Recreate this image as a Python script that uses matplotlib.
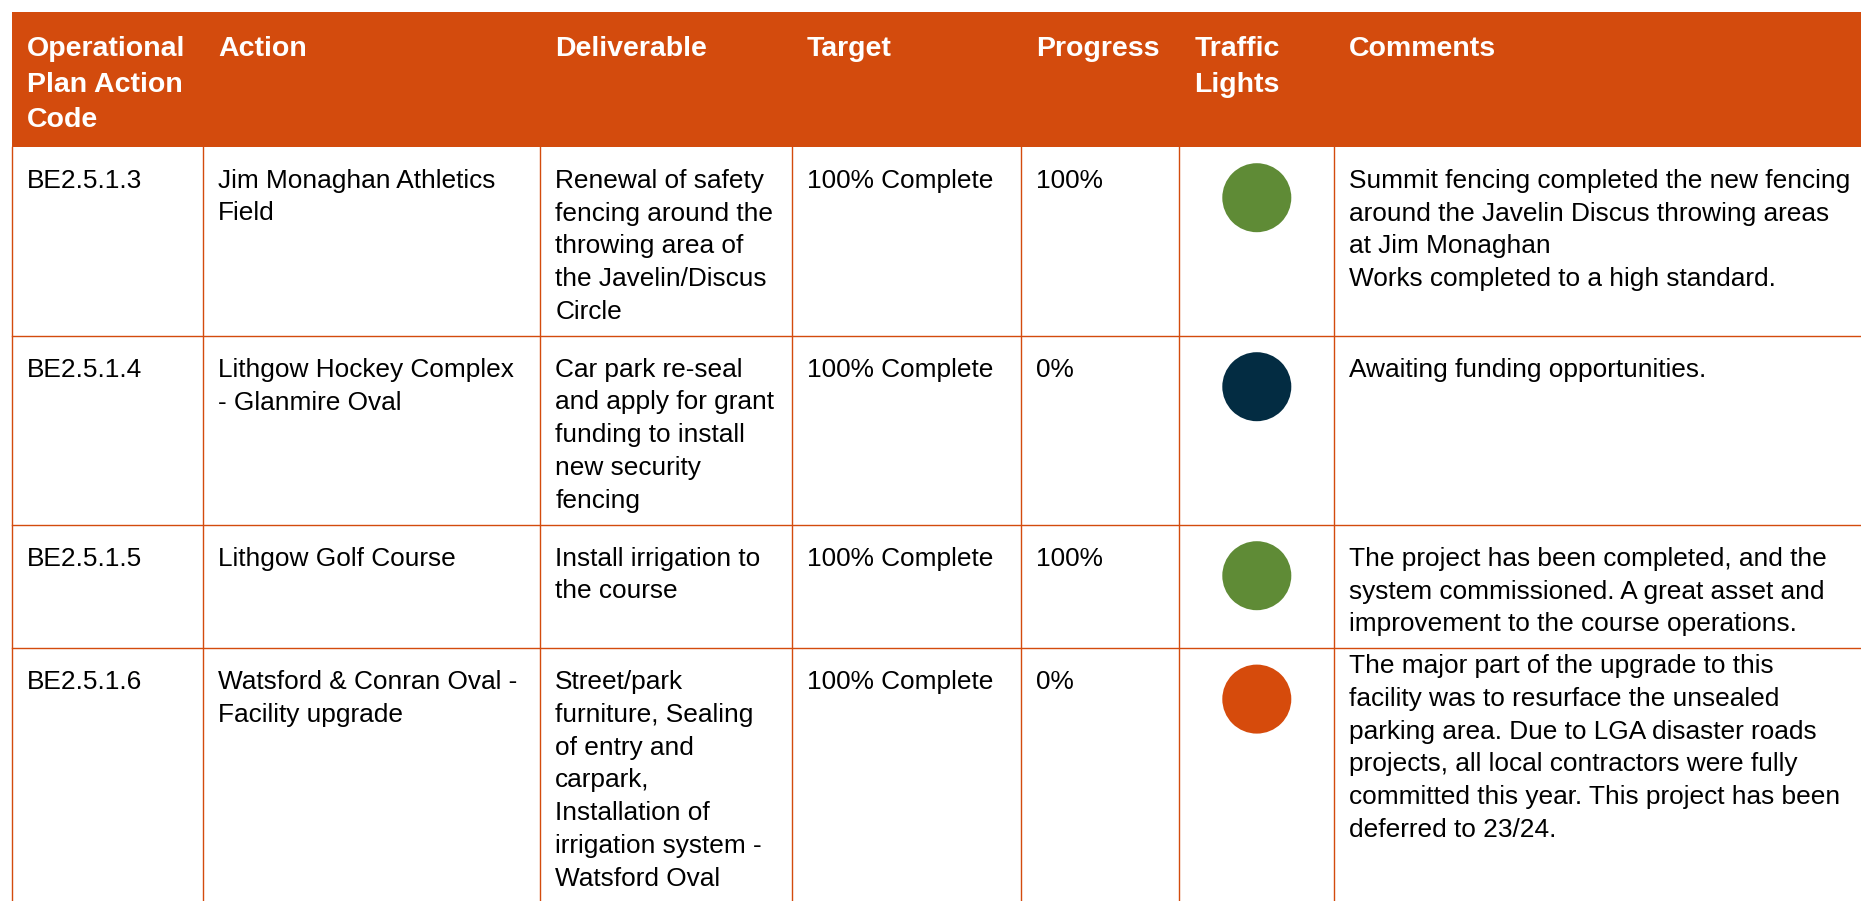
import matplotlib
matplotlib.use("Agg")
import matplotlib.pyplot as plt
from matplotlib.patches import Rectangle, Circle

plt.rcParams["font.family"] = ["Liberation Sans", "DejaVu Sans"]

# table content
headers = [
    "Operational\nPlan Action\nCode", "Action", "Deliverable", "Target",
    "Progress", "Traffic\nLights", "Comments",
]
codes = ["BE2.5.1.3", "BE2.5.1.4", "BE2.5.1.5", "BE2.5.1.6"]
actions = [
    "Jim Monaghan Athletics\nField",
    "Lithgow Hockey Complex\n- Glanmire Oval",
    "Lithgow Golf Course",
    "Watsford & Conran Oval -\nFacility upgrade",
]
deliverables = [
    "Renewal of safety\nfencing around the\nthrowing area of\nthe Javelin/Discus\nCircle",
    "Car park re-seal\nand apply for grant\nfunding to install\nnew security\nfencing",
    "Install irrigation to\nthe course",
    "Street/park\nfurniture, Sealing\nof entry and\ncarpark,\nInstallation of\nirrigation system -\nWatsford Oval",
]
targets = ["100% Complete", "100% Complete", "100% Complete", "100% Complete"]
progress = ["100%", "0%", "100%", "0%"]
lights = ["green", "navy", "green", "orange"]
comments = [
    "Summit fencing completed the new fencing\naround the Javelin Discus throwing areas\n"
    "at Jim Monaghan\nWorks completed to a high standard.",
    "Awaiting funding opportunities.",
    "The project has been completed, and the\nsystem commissioned. A great asset and\n"
    "improvement to the course operations.",
    "The major part of the upgrade to this\nfacility was to resurface the unsealed\n"
    "parking area. Due to LGA disaster roads\nprojects, all local contractors were fully\n"
    "committed this year. This project has been\ndeferred to 23/24.",
]

# styling / layout
W, H = 1861, 901
ORANGE = "#D34B0D"
LIGHT_COLORS = {"green": "#5F8B36", "navy": "#032C42", "orange": "#D64B0C"}
col_edges = [11.7, 203.3, 540.3, 791.7, 1021, 1179.3, 1334.3, 1900]
header_top, header_bottom = 12, 146.7
pad_x = 15
body_size, head_size = 18.9, 20.5
body_line, head_line = 32.8, 35.6
body_base, head_base = 41, 44
row_pad = 25
light_col = 5

fig = plt.figure(figsize=(W / 100, H / 100), dpi=100)
ax = fig.add_axes([0, 0, 1, 1])
ax.set_xlim(0, W)
ax.set_ylim(H, 0)
ax.axis("off")

# header band
ax.add_patch(Rectangle((col_edges[0], header_top), W - col_edges[0],
                       header_bottom - header_top, color=ORANGE, lw=0))
for j, h in enumerate(headers):
    for i, line in enumerate(h.split("\n")):
        ax.text(col_edges[j] + pad_x, header_top + head_base + i * head_line, line,
                fontsize=head_size, fontweight="bold", color="white",
                va="baseline", ha="left")

# body rows
columns = [codes, actions, deliverables, targets, progress, None, comments]
top = header_bottom
row_edges = [top]
for r in range(len(codes)):
    cells = [c[r] if c is not None else "" for c in columns]
    nlines = max(len(c.split("\n")) for c in cells)
    bottom = top + nlines * body_line + row_pad
    for j, cell in enumerate(cells):
        if j == light_col:
            continue
        base = body_base
        if j == len(columns) - 1 and r == len(codes) - 1:
            base = 25  # last comment sits right under the rule
        for i, line in enumerate(cell.split("\n")):
            ax.text(col_edges[j] + pad_x, top + base + i * body_line, line,
                    fontsize=body_size, color="black", va="baseline", ha="left")
    cx = (col_edges[light_col] + col_edges[light_col + 1]) / 2
    ax.add_patch(Circle((cx, top + 51), 34.5, color=LIGHT_COLORS[lights[r]], lw=0))
    top = bottom
    row_edges.append(bottom)

# grid lines
for y in row_edges[1:]:
    ax.plot([col_edges[0], W], [y, y], color=ORANGE, lw=1.0)
for x in col_edges[:-1]:
    ax.plot([x, x], [header_bottom, H], color=ORANGE, lw=1.0)

fig.savefig("out.png", dpi=100)
